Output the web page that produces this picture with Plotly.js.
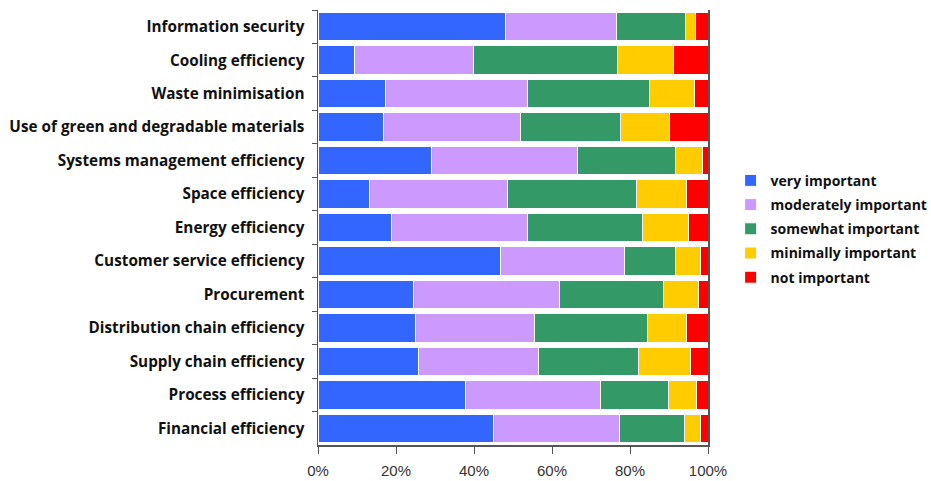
<!DOCTYPE html>
<html>
<head>
<meta charset="utf-8">
<script src="https://cdn.plot.ly/plotly-3.0.1.min.js"></script>
<style>html,body{margin:0;padding:0;background:#fff;}#chart{width:931px;height:481px;}</style>
</head>
<body>
<div id="chart"></div>
<script>
const categories = [
  "Information security",
  "Cooling efficiency",
  "Waste minimisation",
  "Use of green and degradable materials",
  "Systems management efficiency",
  "Space efficiency",
  "Energy efficiency",
  "Customer service efficiency",
  "Procurement",
  "Distribution chain efficiency",
  "Supply chain efficiency",
  "Process efficiency",
  "Financial efficiency"
];
const veryImportant       = [48.1,  9.4, 17.4, 16.8, 29.1, 13.3, 18.8, 46.8, 24.4, 24.9, 25.7, 37.9, 45.0];
const moderatelyImportant = [28.4, 30.5, 36.4, 35.1, 37.5, 35.3, 34.8, 31.7, 37.5, 30.7, 30.8, 34.6, 32.4];
const somewhatImportant   = [17.7, 36.8, 31.3, 25.6, 25.1, 33.1, 29.6, 13.2, 26.7, 28.8, 25.8, 17.3, 16.6];
const minimallyImportant  = [ 2.6, 14.4, 11.4, 12.6,  7.0, 12.8, 11.9,  6.4,  9.0, 10.1, 13.3,  7.2,  4.1];
const notImportant        = [ 3.2,  8.9,  3.5,  9.9,  1.3,  5.5,  4.9,  1.9,  2.4,  5.5,  4.4,  3.0,  1.9];
const seriesNames  = ["very important", "moderately important", "somewhat important", "minimally important", "not important"];
const seriesValues = [veryImportant, moderatelyImportant, somewhatImportant, minimallyImportant, notImportant];
const seriesColors = ["#3366FF", "#CC99FF", "#339966", "#FFCC00", "#FF0000"];
const xTickVals = [0, 20, 40, 60, 80, 100];
const xTickText = ["0%", "20%", "40%", "60%", "80%", "100%"];

const traces = seriesNames.map((name, i) => ({
  type: "bar",
  orientation: "h",
  name: name,
  legendgroup: "g" + i,
  y: categories,
  x: seriesValues[i],
  marker: {color: seriesColors[i], line: {color: "#ffffff", width: 1}},
  hoverinfo: "x+y+name"
}));

const layout = {
  width: 931, height: 481,
  margin: {l: 318, r: 223, t: 10, b: 36, pad: 0, autoexpand: false},
  paper_bgcolor: "#ffffff", plot_bgcolor: "#ffffff",
  barmode: "stack",
  bargap: 0.15,
  font: {family: "Open Sans, Liberation Sans, Arial, sans-serif", color: "#000"},
  xaxis: {
    range: [0, 100], tickvals: xTickVals, ticktext: xTickText,
    showgrid: false, zeroline: false,
    showline: true, linecolor: "#555", linewidth: 1.5,
    ticks: "outside", ticklen: 7, tickcolor: "#555",
    tickfont: {family: "Liberation Sans, Arial, sans-serif", size: 15, color: "#333"},
    ticklabelstandoff: 4, fixedrange: true, automargin: false
  },
  yaxis: {
    type: "category", autorange: "reversed",
    showgrid: false, zeroline: false,
    showline: true, mirror: true, linecolor: "#555", linewidth: 1.5,
    ticks: "outside", tickson: "boundaries", ticklen: 5, tickcolor: "#555",
    tickfont: {family: "Open Sans, sans-serif", size: 15.3, color: "#111", weight: "bold"},
    ticklabelstandoff: 9, fixedrange: true, automargin: false
  },
  showlegend: true,
  legend: {
    x: 1.058, xanchor: "left", xref: "paper",
    y: 0.497, yanchor: "middle",
    traceorder: "grouped", tracegroupgap: 3,
    font: {family: "Open Sans, sans-serif", size: 14, color: "#111", weight: "bold"},
    itemwidth: 30, bgcolor: "rgba(0,0,0,0)"
  }
};

Plotly.newPlot("chart", traces, layout, {displayModeBar: false, staticPlot: true});
</script>
</body>
</html>
